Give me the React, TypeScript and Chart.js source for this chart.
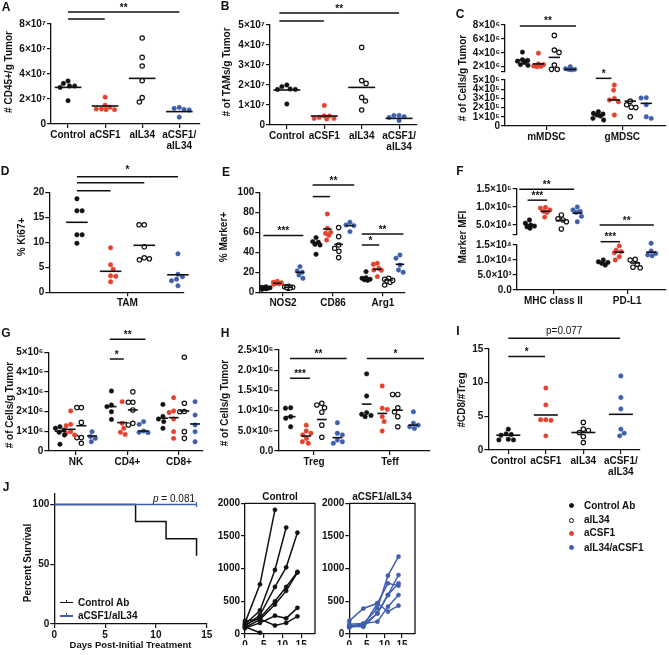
import React, { useEffect, useRef } from 'react';
import { Chart, registerables } from 'chart.js';

Chart.register(...registerables);

const FONT = '"Liberation Sans", Arial, Helvetica, sans-serif';
const INK = '#111111';
const RED = '#e5412f';
const BLUE = '#3e5fae';
Chart.defaults.font.family = FONT;

// ---------------- Panel A ----------------
const fourGroupLabels: (string | string[])[] = ['Control', 'aCSF1', 'aIL34', ['aCSF1/', 'aIL34']];
const aControl = [3.25e7, 3.04e7, 2.93e7, 3.04e7, 3.44e7, 1.87e7];
const aCSF1 = [2.15e7, 1.5e7, 1.35e7, 1.2e7, 1.15e7, 1.15e7, 1.2e7];
const aIL34 = [6.88e7, 5.33e7, 4.64e7, 3.47e7, 2.11e7, 1.76e7];
const aCombo = [1.33e7, 1.12e7, 1.17e7, 1.25e7, 0.55e7];
const aMeans = [2.93e7, 1.44e7, 3.65e7, 0.99e7];
const aYTicks = [0, 2e7, 4e7, 6e7, 8e7];
const aYLabels = ['0', '2×10⁷', '4×10⁷', '6×10⁷', '8×10⁷'];

// ---------------- Panel B ----------------
const bControl = [1.92e7, 1.8e7, 1.78e7, 1.78e7, 2.0e7, 1.05e7];
const bCSF1 = [0.98e7, 0.45e7, 0.33e7, 0.3e7, 0.33e7, 0.45e7, 0.38e7];
const bIL34 = [3.88e7, 2.22e7, 2.08e7, 1.38e7, 1.2e7, 0.75e7];
const bCombo = [0.42e7, 0.48e7, 0.48e7, 0.38e7, 0.22e7];
const bMeans = [1.75e7, 0.45e7, 1.88e7, 0.33e7];
const bYTicks = [0, 1e7, 2e7, 3e7, 4e7, 5e7];
const bYLabels = ['0', '1×10⁷', '2×10⁷', '3×10⁷', '4×10⁷', '5×10⁷'];

// ---------------- Panel C (broken axis) ----------------
const cCategories = ['mMDSC', 'gMDSC'];
const cControl = [[4.1e6, 3.0e6, 2.9e6, 2.6e6, 2.8e6, 2.3e6, 2.2e6], [1.56e5, 1.38e5, 1.2e5, 1.09e5, 0.83e5, 0.65e5, 1.3e5]];
const cCSF1 = [[3.95e6, 2.3e6, 2.0e6, 2.1e6, 2.4e6, 2.05e6], [4.46e5, 3.9e5, 3.0e5, 2.83e5, 2.64e5, 1.2e5]];
const cIL34 = [[6.5e6, 4.4e6, 4.06e6, 2.24e6, 1.62e6, 1.62e6], [2.7e5, 2.3e5, 2.05e5, 2.0e5, 1.0e5]];
const cCombo = [[1.62e6, 1.6e6, 1.55e6, 2.0e6, 1.7e6], [3.08e5, 3.05e5, 2.3e5, 1.0e5, 0.83e5]];
const cMeans = [[2.96e6, 1.2e5], [2.4e6, 2.83e5], [3.34e6, 2.7e5], [1.62e6, 2.46e5]];
const cTopTicks = [1.28e6, 2e6, 4e6, 6e6, 8e6];
const cTopLabels = ['', '2×10⁶', '4×10⁶', '6×10⁶', '8×10⁶'];
const cBottomTicks = [0, 1e5, 2e5, 3e5, 4e5, 5e5];
const cBottomLabels = ['0', '1×10⁵', '2×10⁵', '3×10⁵', '4×10⁵', '5×10⁵'];

// ---------------- Panel D ----------------
const dCategories = ['TAM'];
const dControl = [18.7, 16.3, 16.3, 11.5, 11.5, 9.8];
const dCSF1 = [8.9, 5.5, 4.6, 3.3, 3.2, 2.1];
const dIL34 = [13.5, 13.5, 9.1, 6.9, 6.7, 6.5];
const dCombo = [7.7, 3.6, 3.1, 2.6, 2.3, 1.3];
const dMeans = [14.0, 4.2, 9.4, 3.5];
const dYTicks = [0, 5, 10, 15, 20];
const dYLabels = ['0', '5', '10', '15', '20'];

// ---------------- Panel E ----------------
const eCategories = ['NOS2', 'CD86', 'Arg1'];
const eControl = [[3, 4, 4.5, 5, 5.5, 3.5, 4], [54.7, 50.7, 50, 47.3, 48, 38], [20.7, 14, 13, 12.5, 12, 14.5]];
const eCSF1 = [[8, 9, 10, 11, 8.5, 9.5], [78.3, 64, 59, 57, 52.3, 60], [29, 28, 22.3, 22, 15.7, 24]];
const eIL34 = [[4, 5, 5.5, 6, 4.5, 5], [64.7, 55.7, 47.3, 44, 41, 34.7], [14, 13, 11.3, 10, 7.3, 12]];
const eCombo = [[25.7, 21.3, 20, 17.3, 14], [70, 67.3, 66.7, 60.7], [37.3, 34, 27.3, 22.3, 20]];
const eMeans = [[4.3, 49.7, 13], [9, 63.3, 23], [5, 48, 12.3], [20, 66.7, 28]];
const eYTicks = [0, 20, 40, 60, 80, 100];
const eYLabels = ['0', '20', '40', '60', '80', '100'];

// ---------------- Panel F (broken axis) ----------------
const fCategories = ['MHC class II', 'PD-L1'];
const fControl = [[6.4e4, 5.5e4, 4.7e4, 4.5e4, 4.1e4, 5.0e4], [9.4e3, 8.9e3, 8.3e3, 10e3, 9.2e3]];
const fCSF1 = [[9.9e4, 9.7e4, 9.2e4, 8.8e4, 8.5e4, 7.2e4], [14.7e3, 13.3e3, 12.4e3, 11.1e3, 10e3, 12.8e3]];
const fIL34 = [[7.8e4, 6.7e4, 6.4e4, 5.9e4, 3.9e4], [10e3, 10.2e3, 8.6e3, 7.4e3, 7.6e3]];
const fCombo = [[10e4, 9.2e4, 8.8e4, 7.4e4, 5.9e4, 8.5e4], [15.6e3, 13e3, 12.2e3, 11.4e3, 11.7e3]];
const fMeans = [[5.0e4, 8.9e3], [8.8e4, 12.6e3], [6.3e4, 9.0e3], [8.3e4, 12.6e3]];
const fTopTicks = [2.42e4, 5e4, 1e5, 1.5e5];
const fTopLabels = ['', '5.0×10⁴', '1.0×10⁵', '1.5×10⁵'];
const fBottomTicks = [0, 5e3, 1e4, 1.5e4];
const fBottomLabels = ['0.0', '5.0×10³', '1.0×10⁴', '1.5×10⁴'];

// ---------------- Panel G ----------------
const gCategories = ['NK', 'CD4+', 'CD8+'];
const gControl = [[1.23e6, 1.06e6, 1.15e6, 0.95e6, 0.81e6, 0.34e6], [3.04e6, 2.33e6, 2.25e6, 1.99e6, 1.6e6], [2.36e6, 1.62e6, 1.49e6, 1.15e6, 1.75e6]];
const gCSF1 = [[2.03e6, 1.35e6, 1.28e6, 0.98e6, 0.81e6, 0.9e6], [2.5e6, 1.4e6, 1.15e6, 0.84e6, 0.95e6], [2.7e6, 2.03e6, 1.95e6, 1.62e6, 0.98e6, 0.64e6]];
const gIL34 = [[2.2e6, 2.2e6, 1.45e6, 0.68e6, 0.68e6, 0.39e6], [3.0e6, 2.47e6, 2.47e6, 2.08e6, 1.4e6, 1.32e6], [4.75e6, 2.42e6, 1.99e6, 2.0e6, 0.98e6, 0.64e6]];
const gCombo = [[0.98e6, 0.73e6, 0.64e6, 0.47e6], [1.49e6, 1.35e6, 1.01e6, 0.93e6, 0.95e6], [2.5e6, 1.82e6, 1.32e6, 0.98e6, 0.47e6]];
const gMeans = [[1.0e6, 2.25e6, 1.66e6], [1.1e6, 1.44e6, 1.69e6], [1.28e6, 2.08e6, 2.03e6], [0.76e6, 1.01e6, 1.37e6]];
const gYTicks = [0, 1e6, 2e6, 3e6, 4e6, 5e6];
const gYLabels = ['0', '1×10⁶', '2×10⁶', '3×10⁶', '4×10⁶', '5×10⁶'];

// ---------------- Panel H ----------------
const hCategories = ['Treg', 'Teff'];
const hControl = [[10.7e5, 10.6e5, 8.5e5, 8.1e5, 6.0e5], [19.1e5, 13.6e5, 9.5e5, 9.1e5, 8.8e5, 8.5e5]];
const hCSF1 = [[6.4e5, 4.95e5, 4.4e5, 4.0e5, 3.1e5, 2.3e5, 1.9e5], [16.1e5, 10.6e5, 10.3e5, 8.5e5, 7.3e5, 4.95e5]];
const hIL34 = [[11.8e5, 11.4e5, 10.7e5, 9.6e5, 6.4e5, 3.4e5], [14.0e5, 14.0e5, 10.7e5, 9.7e5, 8.5e5, 6.0e5]];
const hCombo = [[7.0e5, 4.4e5, 4.0e5, 2.7e5, 2.3e5, 1.9e5], [9.7e5, 6.9e5, 6.4e5, 6.0e5, 5.6e5]];
const hMeans = [[8.5e5, 11.6e5], [3.7e5, 9.3e5], [7.8e5, 10.1e5], [3.3e5, 6.4e5]];
const hYTicks = [0, 5e5, 1e6, 1.5e6, 2e6, 2.5e6];
const hYLabels = ['0.0', '5.0×10⁵', '1.0×10⁶', '1.5×10⁶', '2.0×10⁶', '2.5×10⁶'];

// ---------------- Panel I ----------------
const iControl = [3.1, 2.4, 2.2, 2.3, 1.5, 1.5, 1.6];
const iCSF1 = [9.2, 6.7, 4.5, 4.4, 4.5, 2.1];
const iIL34 = [4.1, 2.9, 3.1, 2.0, 1.1, 2.6];
const iCombo = [11.0, 7.8, 6.1, 3.1, 2.5, 2.1];
const iMeans = [2.2, 5.2, 2.6, 5.3];
const iYTicks = [0, 5, 10, 15];
const iYLabels = ['0', '5', '10', '15'];

// ---------------- Panel J ----------------
const survControlDays = [0, 8, 11, 14];
const survControl = [100, 85.7, 71.4, 57.1];
const survComboDays = [0, 14];
const survCombo = [100, 100];
const survXTicks = [0, 5, 10, 15];
const survYTicks = [0, 50, 100];
const growthDays = [0, 4, 8, 11, 14];
const growthXTicks = [0, 5, 10, 15];
const growthYTicks = [0, 500, 1000, 1500, 2000];
const ctrlVolumes: (number | null)[][] = [
  [170, 760, 1900, null, null],
  [150, 360, 980, 1630, null],
  [120, 290, 720, 1020, 1550],
  [140, 250, 500, 720, 950],
  [100, 220, 450, 660, 940],
  [200, 230, 130, 170, 270],
  [90, 170, 280, 240, 400],
  [110, 20, null, null, null],
];
const comboVolumes: (number | null)[][] = [
  [200, 390, 470, 776, 740],
  [150, 160, 393, 893, 1184],
  [120, 110, 316, 597, 903],
  [110, 160, 189, 418, 597],
  [130, 120, 470, 342, 434],
  [100, 140, 316, 597, 776],
];

// ---------------- helpers ----------------
const KIND_STYLE = [
  { fill: INK, stroke: INK, bw: 0.6 },
  { fill: RED, stroke: RED, bw: 0.6 },
  { fill: '#ffffff', stroke: INK, bw: 1.2 },
  { fill: BLUE, stroke: BLUE, bw: 0.6 },
];
const tickFont = { family: FONT, size: 10, weight: 'bold' as const };

// beeswarm layout in pixel space, limited to +/- cap px around the group centre
const swarmPlugin = {
  id: 'swarm',
  afterDatasetsUpdate(chart: any) {
    chart.data.datasets.forEach((ds: any, i: number) => {
      const gap = ds.swarmGap;
      if (!gap) return;
      const cap = ds.swarmCap ?? 12;
      const meta = chart.getDatasetMeta(i);
      const els = [...meta.data].sort((a: any, b: any) => a.y - b.y);
      const placed: { dx: number; y: number }[] = [];
      els.forEach((el: any, n: number) => {
        const cands = [0];
        for (let c = -cap; c <= cap + 1e-6; c += 0.5) cands.push(c);
        placed.forEach((p) => {
          const dy = el.y - p.y;
          if (Math.abs(dy) < gap) {
            const o = Math.sqrt(gap * gap - dy * dy);
            cands.push(p.dx + o, p.dx - o);
          }
        });
        const inCap = cands.filter((c) => Math.abs(c) <= cap + 1e-6);
        const minD = (c: number) =>
          placed.reduce((m, p) => Math.min(m, (c - p.dx) ** 2 + (el.y - p.y) ** 2), Infinity);
        const valid = inCap.filter((c) => minD(c) >= gap * gap - 0.01);
        let dx = 0;
        if (valid.length) {
          valid.sort((a, b) => Math.abs(a) - Math.abs(b) || (n % 2 ? a - b : b - a));
          dx = valid[0];
        } else {
          inCap.sort((a, b) => minD(b) - minD(a) || Math.abs(a) - Math.abs(b));
          dx = inCap[0];
        }
        placed.push({ dx, y: el.y });
        el.x += dx;
      });
    });
  },
};

type Sig = { x1: number; x2: number; y: number; label?: string; dy?: number; fnt?: string };

function makeAnnot(items: Sig[]) {
  return {
    id: 'annot',
    afterDatasetsDraw(chart: any) {
      const { ctx } = chart;
      const xs = chart.scales.x;
      const ys = chart.scales.y;
      ctx.save();
      items.forEach((s) => {
        const x1 = xs.getPixelForValue(s.x1);
        const x2 = xs.getPixelForValue(s.x2);
        const y = ys.getPixelForValue(s.y);
        ctx.strokeStyle = INK;
        ctx.lineWidth = 1.5;
        ctx.beginPath();
        ctx.moveTo(x1, y);
        ctx.lineTo(x2, y);
        ctx.stroke();
        if (s.label) {
          ctx.fillStyle = INK;
          ctx.font = s.fnt || `bold 10px ${FONT}`;
          ctx.textAlign = 'center';
          ctx.textBaseline = 'alphabetic';
          ctx.fillText(s.label, (x1 + x2) / 2, y - (s.dy ?? 1.5));
        }
      });
      ctx.restore();
    },
  };
}

const boxPlugin = {
  id: 'boxframe',
  afterDraw(chart: any) {
    const { ctx, chartArea: a } = chart;
    ctx.save();
    ctx.strokeStyle = INK;
    ctx.lineWidth = 1.3;
    ctx.beginPath();
    ctx.moveTo(a.left, a.top);
    ctx.lineTo(a.right, a.top);
    ctx.lineTo(a.right, a.bottom);
    ctx.stroke();
    ctx.restore();
  },
};

function axisCommon() {
  return {
    grid: { drawOnChartArea: false, drawTicks: true, tickLength: 4, color: INK, lineWidth: 1.2 },
    border: { display: true, color: INK, width: 1.3 },
  };
}

function zeroPad(s: any) {
  s.paddingTop = 0;
  s.paddingBottom = 0;
  s.paddingLeft = 0;
  s.paddingRight = 0;
}

function yAxis(min: number, max: number, ticks: number[], labels: string[], width: number) {
  return {
    type: 'linear',
    position: 'left',
    min,
    max,
    afterBuildTicks: (s: any) => {
      s.ticks = ticks.map((v) => ({ value: v }));
    },
    afterFit: (s: any) => {
      s.width = width;
      zeroPad(s);
    },
    ticks: { font: tickFont, color: INK, padding: 1, autoSkip: false, callback: (_v: any, i: number) => labels[i] },
    ...axisCommon(),
  };
}

function xAxis(min: number, max: number, ticks: number[], labels: any[], height: number, show: boolean) {
  return {
    type: 'linear',
    position: 'bottom',
    display: show,
    min,
    max,
    afterBuildTicks: (s: any) => {
      s.ticks = ticks.map((v) => ({ value: v }));
    },
    afterFit: (s: any) => {
      s.height = show ? height : 0;
      zeroPad(s);
    },
    ticks: {
      font: { ...tickFont, lineHeight: 1.05 },
      color: INK,
      padding: 2,
      autoSkip: false,
      maxRotation: 0,
      minRotation: 0,
      callback: (_v: any, i: number) => labels[i],
    },
    ...axisCommon(),
  };
}

type DotGroup = { values: number[]; x: number; kind: number };
type DotCfg = {
  box: number[];
  plot: number[];
  xMin: number;
  xMax: number;
  xTicks: number[];
  xLabels: any[];
  showX?: boolean;
  yMin: number;
  yMax: number;
  yTicks: number[];
  yLabels: string[];
  groups: DotGroup[];
  means: { x: number; y: number }[];
  hw: number;
  cap: number;
  sigs: Sig[];
};

function dotConfig(c: DotCfg) {
  const [bx, by, bw, bh] = c.box;
  const [l, t, r, b] = c.plot;
  const show = c.showX !== false;
  const datasets: any[] = [];
  c.groups.forEach((g) => {
    const st = KIND_STYLE[g.kind];
    datasets.push({
      data: g.values.map((v) => ({ x: g.x, y: v })),
      pointRadius: 2.2,
      pointHoverRadius: 2.2,
      pointBackgroundColor: st.fill,
      pointBorderColor: st.stroke,
      pointBorderWidth: st.bw,
      showLine: false,
      order: 1,
      clip: false,
      swarmGap: 5.2,
      swarmCap: c.cap,
    });
  });
  c.means.forEach((m) => {
    datasets.push({
      data: [
        { x: m.x - c.hw, y: m.y },
        { x: m.x + c.hw, y: m.y },
      ],
      showLine: true,
      borderColor: INK,
      borderWidth: 1.6,
      pointRadius: 0,
      order: 0,
      clip: false,
    });
  });
  return {
    type: 'scatter',
    data: { datasets },
    options: {
      responsive: false,
      animation: false,
      events: [],
      layout: { padding: { left: 0, top: t - by, right: bx + bw - r, bottom: show ? 0 : by + bh - b } },
      plugins: { legend: { display: false }, tooltip: { enabled: false } },
      scales: {
        x: xAxis(c.xMin, c.xMax, c.xTicks, c.xLabels, by + bh - b, show),
        y: yAxis(c.yMin, c.yMax, c.yTicks, c.yLabels, l - bx),
      },
    },
    plugins: [swarmPlugin, makeAnnot(c.sigs)],
  };
}

// groups laid out one per category (A, B, I)
function perGroup(series: number[][], means: number[]) {
  return {
    groups: series.map((values, k) => ({ values, x: k, kind: k })),
    means: means.map((y, k) => ({ x: k, y })),
  };
}
// groups nested inside categories (C-H)
function nested(series: number[][][], means: number[][], step: number, cats: number[]) {
  const groups: DotGroup[] = [];
  const ms: { x: number; y: number }[] = [];
  series.forEach((byCat, k) => {
    cats.forEach((c) => {
      groups.push({ values: byCat[c], x: c + (k - 1.5) * step, kind: k });
      ms.push({ x: c + (k - 1.5) * step, y: means[k][c] });
    });
  });
  return { groups, means: ms };
}
const at = (c: number, g: number, step: number) => c + g * step;

// ---------------- panel configs ----------------
const cfgA = () =>
  dotConfig({
    box: [0, 0, 218, 158],
    plot: [51, 24, 200, 124],
    xMin: -0.46,
    xMax: 3.56,
    xTicks: [0, 1, 2, 3],
    xLabels: fourGroupLabels,
    yMin: 0,
    yMax: 8e7,
    yTicks: aYTicks,
    yLabels: aYLabels,
    ...perGroup([aControl, aCSF1, aIL34, aCombo], aMeans),
    hw: 0.36,
    cap: 11,
    sigs: [
      { x1: 0, x2: 3, y: 8.96e7, label: '**' },
      { x1: 0, x2: 0.99, y: 8.4e7 },
    ],
  });

const cfgB = () =>
  dotConfig({
    box: [220, 0, 218, 158],
    plot: [270, 25, 416.7, 125],
    xMin: -0.45,
    xMax: 3.47,
    xTicks: [0, 1, 2, 3],
    xLabels: fourGroupLabels,
    yMin: 0,
    yMax: 5e7,
    yTicks: bYTicks,
    yLabels: bYLabels,
    ...perGroup([bControl, bCSF1, bIL34, bCombo], bMeans),
    hw: 0.36,
    cap: 11,
    sigs: [
      { x1: -0.2, x2: 3, y: 5.6e7, label: '**' },
      { x1: -0.2, x2: 0.99, y: 5.2e7 },
    ],
  });

const C_STEP = 0.21;
const cfgCTop = () =>
  dotConfig({
    box: [440, 0, 229, 80],
    plot: [505, 25, 668, 71.7],
    xMin: -0.545,
    xMax: 1.57,
    xTicks: [0, 1],
    xLabels: cCategories,
    showX: false,
    yMin: 1.28e6,
    yMax: 8e6,
    yTicks: cTopTicks,
    yLabels: cTopLabels,
    ...nested([cControl, cCSF1, cIL34, cCombo], cMeans, C_STEP, [0]),
    hw: 0.075,
    cap: 5.5,
    sigs: [{ x1: -0.35, x2: 0.39, y: 7.86e6, label: '**' }],
  });
const cfgCBottom = () =>
  dotConfig({
    box: [440, 60, 229, 100],
    plot: [505, 80, 668, 126],
    xMin: -0.545,
    xMax: 1.57,
    xTicks: [0, 1],
    xLabels: cCategories,
    yMin: 0,
    yMax: 5e5,
    yTicks: cBottomTicks,
    yLabels: cBottomLabels,
    ...nested([cControl, cCSF1, cIL34, cCombo], cMeans, C_STEP, [1]),
    hw: 0.075,
    cap: 5.5,
    sigs: [{ x1: 0.65, x2: 0.857, y: 5.18e5, label: '*' }],
  });

const cfgD = () =>
  dotConfig({
    box: [0, 162, 218, 155],
    plot: [49.3, 192.3, 184, 292.3],
    xMin: -2.32,
    xMax: 1.68,
    xTicks: [0],
    xLabels: dCategories,
    yMin: 0,
    yMax: 20,
    yTicks: dYTicks,
    yLabels: dYLabels,
    ...nested([[dControl], [dCSF1], [dIL34], [dCombo]], dMeans.map((m) => [m]), 1, [0]),
    hw: 0.32,
    cap: 9,
    sigs: [
      { x1: -1.5, x2: 1.5, y: 23.1, label: '*', dy: 4 },
      { x1: -1.5, x2: 0.5, y: 21.9 },
      { x1: -1.5, x2: -0.5, y: 20.3 },
    ],
  });

const E_STEP = 0.226;
const cfgE = () =>
  dotConfig({
    box: [220, 162, 218, 155],
    plot: [259.3, 192.3, 405, 292.3],
    xMin: -0.474,
    xMax: 2.44,
    xTicks: [0, 1, 2],
    xLabels: eCategories,
    yMin: 0,
    yMax: 100,
    yTicks: eYTicks,
    yLabels: eYLabels,
    ...nested([eControl, eCSF1, eIL34, eCombo], eMeans, E_STEP, [0, 1, 2]),
    hw: 0.085,
    cap: 4,
    sigs: [
      { x1: at(0, -1.74, E_STEP), x2: at(0, 1.8, E_STEP), y: 56.7, label: '***' },
      { x1: at(1, -1.8, E_STEP), x2: at(1, 1.88, E_STEP), y: 107.3, label: '**' },
      { x1: at(1, -1.8, E_STEP), x2: at(1, -0.27, E_STEP), y: 95.7 },
      { x1: at(2, -1.88, E_STEP), x2: at(2, 1.8, E_STEP), y: 58.3, label: '**' },
      { x1: at(2, -1.88, E_STEP), x2: at(2, -0.33, E_STEP), y: 47.3, label: '*' },
    ],
  });

const F_STEP = 0.216;
const cfgFTop = () =>
  dotConfig({
    box: [440, 162, 229, 80],
    plot: [516.7, 189, 668, 234.3],
    xMin: -0.497,
    xMax: 1.52,
    xTicks: [0, 1],
    xLabels: fCategories,
    showX: false,
    yMin: 2.42e4,
    yMax: 1.5e5,
    yTicks: fTopTicks,
    yLabels: fTopLabels,
    ...nested([fControl, fCSF1, fIL34, fCombo], fMeans, F_STEP, [0]),
    hw: 0.067,
    cap: 5,
    sigs: [
      { x1: at(0, -2.14, F_STEP), x2: at(0, 1.3, F_STEP), y: 1.49e5, label: '**' },
      { x1: at(0, -1.62, F_STEP), x2: at(0, -0.39, F_STEP), y: 1.19e5, label: '***' },
      { x1: at(1, -1.73, F_STEP), x2: at(1, 1.67, F_STEP), y: 5e4, label: '**' },
    ],
  });
const cfgFBottom = () =>
  dotConfig({
    box: [440, 225, 229, 90],
    plot: [516.7, 245, 668, 290],
    xMin: -0.497,
    xMax: 1.52,
    xTicks: [0, 1],
    xLabels: fCategories,
    yMin: 0,
    yMax: 1.5e4,
    yTicks: fBottomTicks,
    yLabels: fBottomLabels,
    ...nested([fControl, fCSF1, fIL34, fCombo], fMeans, F_STEP, [1]),
    hw: 0.067,
    cap: 5,
    sigs: [{ x1: at(1, -1.67, F_STEP), x2: at(1, -0.45, F_STEP), y: 1.61e4, label: '***' }],
  });

const G_STEP = 0.208;
const cfgG = () =>
  dotConfig({
    box: [0, 325, 218, 155],
    plot: [48.3, 352.3, 203, 451],
    xMin: -0.538,
    xMax: 2.466,
    xTicks: [0, 1, 2],
    xLabels: gCategories,
    yMin: 0,
    yMax: 5e6,
    yTicks: gYTicks,
    yLabels: gYLabels,
    ...nested([gControl, gCSF1, gIL34, gCombo], gMeans, G_STEP, [0, 1, 2]),
    hw: 0.097,
    cap: 4.5,
    sigs: [
      { x1: at(1, -1.65, G_STEP), x2: at(1, 1.68, G_STEP), y: 5.66e6, label: '**' },
      { x1: at(1, -1.65, G_STEP), x2: at(1, -0.35, G_STEP), y: 4.66e6, label: '*' },
    ],
  });

const H_STEP = 0.205;
const cfgH = () =>
  dotConfig({
    box: [220, 325, 218, 155],
    plot: [278.3, 350, 430, 451],
    xMin: -0.47,
    xMax: 1.526,
    xTicks: [0, 1],
    xLabels: hCategories,
    yMin: 0,
    yMax: 2.5e6,
    yTicks: hYTicks,
    yLabels: hYLabels,
    ...nested([hControl, hCSF1, hIL34, hCombo], hMeans, H_STEP, [0, 1]),
    hw: 0.064,
    cap: 5.5,
    sigs: [
      { x1: at(0, -1.54, H_STEP), x2: at(0, 2.1, H_STEP), y: 2.29e6, label: '**' },
      { x1: at(0, -1.54, H_STEP), x2: at(0, -0.26, H_STEP), y: 1.8e6, label: '***' },
      { x1: at(1, -1.49, H_STEP), x2: at(1, 2.18, H_STEP), y: 2.29e6, label: '*' },
    ],
  });

const cfgI = () =>
  dotConfig({
    box: [440, 322, 229, 160],
    plot: [488.3, 349, 640, 450],
    xMin: -0.533,
    xMax: 3.51,
    xTicks: [0, 1, 2, 3],
    xLabels: fourGroupLabels,
    yMin: 0,
    yMax: 15,
    yTicks: iYTicks,
    yLabels: iYLabels,
    ...perGroup([iControl, iCSF1, iIL34, iCombo], iMeans),
    hw: 0.32,
    cap: 11,
    sigs: [
      { x1: 0, x2: 0.98, y: 13.9, label: '*' },
      { x1: 0, x2: 2.98, y: 16.6, label: 'p=0.077', dy: 4, fnt: `10px ${FONT}` },
    ],
  });

function baseLineOptions(box: number[], plot: number[], x: any, y: any) {
  const [bx, by, bw] = box;
  const [, t, r] = plot;
  return {
    responsive: false,
    animation: false,
    events: [],
    layout: { padding: { left: 0, top: t - by, right: bx + bw - r, bottom: 0 } },
    plugins: { legend: { display: false }, tooltip: { enabled: false } },
    scales: { x, y },
  };
}

const cfgSurvival = () => {
  const box = [0, 485, 235, 170];
  const plot = [54.3, 493.3, 206.7, 624];
  const x: any = xAxis(0, 15, survXTicks, survXTicks.map(String), box[1] + box[3] - plot[3], true);
  x.title = {
    display: true,
    text: 'Days Post-Initial Treatment',
    color: INK,
    font: { family: FONT, size: 9.5, weight: 'bold' },
    padding: { top: 0, bottom: 4 },
  };
  const y = yAxis(0, 109.4, survYTicks, survYTicks.map(String), plot[0] - box[0]);
  return {
    type: 'line',
    data: {
      datasets: [
        {
          data: survComboDays.map((d, i) => ({ x: d, y: survCombo[i] })),
          borderColor: BLUE,
          borderWidth: 1.5,
          stepped: true,
          pointRadius: [0, 2.5],
          pointStyle: 'line',
          pointRotation: 90,
          pointBorderColor: BLUE,
          pointBorderWidth: 1.2,
          order: 0,
          clip: false,
        },
        {
          data: survControlDays.map((d, i) => ({ x: d, y: survControl[i] })),
          borderColor: INK,
          borderWidth: 1.5,
          stepped: true,
          pointRadius: 0,
          order: 1,
          clip: false,
        },
      ],
    },
    options: baseLineOptions(box, plot, x, y),
  };
};

const growthConfig = (box: number[], plot: number[], volumes: (number | null)[][], color: string) => () => {
  const x = xAxis(0, 18.7, growthXTicks, growthXTicks.map(String), box[1] + box[3] - plot[3], true);
  const y = yAxis(0, 2000, growthYTicks, growthYTicks.map(String), plot[0] - box[0]);
  return {
    type: 'line',
    data: {
      datasets: volumes.map((vols) => ({
        data: growthDays.map((d, i) => ({ x: d, y: vols[i] })).filter((p) => p.y !== null),
        borderColor: color,
        borderWidth: 1.5,
        pointRadius: 2.1,
        pointBackgroundColor: color,
        pointBorderColor: color,
        pointBorderWidth: 0.5,
        clip: false,
      })),
    },
    options: baseLineOptions(box, plot, x, y),
    plugins: [boxPlugin],
  };
};

const GROWTH_CTRL_BOX = [210, 490, 112, 155];
const GROWTH_COMBO_BOX = [316, 490, 104, 155];
const cfgGrowthCtrl = growthConfig(GROWTH_CTRL_BOX, [245, 503.3, 315, 634], ctrlVolumes, INK);
const cfgGrowthCombo = growthConfig(GROWTH_COMBO_BOX, [349.3, 503.3, 415, 634], comboVolumes, BLUE);

// ---------------- components ----------------
function ChartCanvas({ box, make }: { box: number[]; make: () => any }) {
  const ref = useRef<HTMLCanvasElement | null>(null);
  useEffect(() => {
    if (!ref.current) return;
    const ch = new Chart(ref.current, make());
    return () => ch.destroy();
  }, []);
  return (
    <canvas
      ref={ref}
      width={box[2]}
      height={box[3]}
      style={{ position: 'absolute', left: box[0], top: box[1], width: box[2], height: box[3] }}
    />
  );
}

function Txt(props: { x: number; y: number; children: any; size?: number; weight?: string; anchor?: string }) {
  const { x, y, children, size = 10, weight = 'bold', anchor = 'center' } = props;
  const tx = anchor === 'right' ? '-100%' : anchor === 'left' ? '0' : '-50%';
  return (
    <div
      style={{
        position: 'absolute',
        left: x,
        top: y,
        transform: `translate(${tx},-50%)`,
        whiteSpace: 'nowrap',
        font: `${weight} ${size}px ${FONT}`,
        color: INK,
        lineHeight: 1,
      }}
    >
      {children}
    </div>
  );
}

function RotTxt({ x, y, children }: { x: number; y: number; children: any }) {
  return (
    <div
      style={{
        position: 'absolute',
        left: x,
        top: y,
        transform: 'translate(-50%,-50%) rotate(-90deg)',
        whiteSpace: 'nowrap',
        font: `bold 10px ${FONT}`,
        color: INK,
        lineHeight: 1,
      }}
    >
      {children}
    </div>
  );
}

const Dot = ({ x, y, fill, stroke }: { x: number; y: number; fill: string; stroke: string }) => (
  <div
    style={{
      position: 'absolute',
      left: x - 2.5,
      top: y - 2.5,
      width: 5,
      height: 5,
      boxSizing: 'border-box',
      borderRadius: '50%',
      background: fill,
      border: `1.2px solid ${stroke}`,
    }}
  />
);

const LegLine = ({ x, y, color }: { x: number; y: number; color: string }) => (
  <div style={{ position: 'absolute', left: x, top: y - 0.75, width: 13, height: 1.5, background: color }}>
    <div style={{ position: 'absolute', left: 6, top: -2, width: 1.2, height: 3, background: color }} />
  </div>
);

export default function App() {
  return (
    <div style={{ position: 'absolute', left: 0, top: 0, width: 669, height: 655, background: '#fff', overflow: 'hidden' }}>
      <ChartCanvas box={[0, 0, 218, 158]} make={cfgA} />
      <ChartCanvas box={[220, 0, 218, 158]} make={cfgB} />
      <ChartCanvas box={[440, 0, 229, 80]} make={cfgCTop} />
      <ChartCanvas box={[440, 60, 229, 100]} make={cfgCBottom} />
      <ChartCanvas box={[0, 162, 218, 155]} make={cfgD} />
      <ChartCanvas box={[220, 162, 218, 155]} make={cfgE} />
      <ChartCanvas box={[440, 162, 229, 80]} make={cfgFTop} />
      <ChartCanvas box={[440, 225, 229, 90]} make={cfgFBottom} />
      <ChartCanvas box={[0, 325, 218, 155]} make={cfgG} />
      <ChartCanvas box={[220, 325, 218, 155]} make={cfgH} />
      <ChartCanvas box={[440, 322, 229, 160]} make={cfgI} />
      <ChartCanvas box={[0, 485, 235, 170]} make={cfgSurvival} />
      <ChartCanvas box={GROWTH_CTRL_BOX} make={cfgGrowthCtrl} />
      <ChartCanvas box={GROWTH_COMBO_BOX} make={cfgGrowthCombo} />

      {/* panel letters */}
      <Txt x={6} y={7} size={12}>A</Txt>
      <Txt x={225} y={6} size={12}>B</Txt>
      <Txt x={460} y={14} size={12}>C</Txt>
      <Txt x={5} y={171} size={12}>D</Txt>
      <Txt x={226} y={172} size={12}>E</Txt>
      <Txt x={460} y={171} size={12}>F</Txt>
      <Txt x={6} y={333} size={12}>G</Txt>
      <Txt x={225} y={333} size={12}>H</Txt>
      <Txt x={458} y={331} size={12}>I</Txt>
      <Txt x={6} y={487} size={12}>J</Txt>

      {/* y axis titles */}
      <RotTxt x={8.5} y={72}># CD45+/g Tumor</RotTxt>
      <RotTxt x={227} y={72}># of TAMs/g Tumor</RotTxt>
      <RotTxt x={463} y={78}># of Cells/g Tumor</RotTxt>
      <RotTxt x={21.7} y={237}>% Ki67+</RotTxt>
      <RotTxt x={224} y={237}>% Marker+</RotTxt>
      <RotTxt x={463} y={237}>Marker MFI</RotTxt>
      <RotTxt x={10} y={405}># of Cells/g Tumor</RotTxt>
      <RotTxt x={225} y={403}># of Cells/g Tumor</RotTxt>
      <RotTxt x={462} y={400}>#CD8/#Treg</RotTxt>
      <RotTxt x={28.3} y={563}>Percent Survival</RotTxt>

      {/* panel J texts */}
      <Txt x={195} y={499} weight="normal" anchor="right">
        <i>p</i> = 0.081
      </Txt>
      <LegLine x={60} y={602.7} color={INK} />
      <Txt x={78} y={602.7} anchor="left">Control Ab</Txt>
      <LegLine x={60} y={616} color={BLUE} />
      <Txt x={78} y={616} anchor="left">aCSF1/aIL34</Txt>
      <Txt x={280} y={497}>Control</Txt>
      <Txt x={382} y={497}>aCSF1/aIL34</Txt>

      {/* group legend */}
      <Dot x={571.7} y={505.7} fill={INK} stroke={INK} />
      <Txt x={584} y={505.7} anchor="left">Control Ab</Txt>
      <Dot x={571.7} y={520} fill="#fff" stroke={INK} />
      <Txt x={584} y={520} anchor="left">aIL34</Txt>
      <Dot x={571.7} y={533.3} fill={RED} stroke={RED} />
      <Txt x={584} y={533.3} anchor="left">aCSF1</Txt>
      <Dot x={571.7} y={547.7} fill={BLUE} stroke={BLUE} />
      <Txt x={584} y={547.7} anchor="left">aIL34/aCSF1</Txt>
    </div>
  );
}
